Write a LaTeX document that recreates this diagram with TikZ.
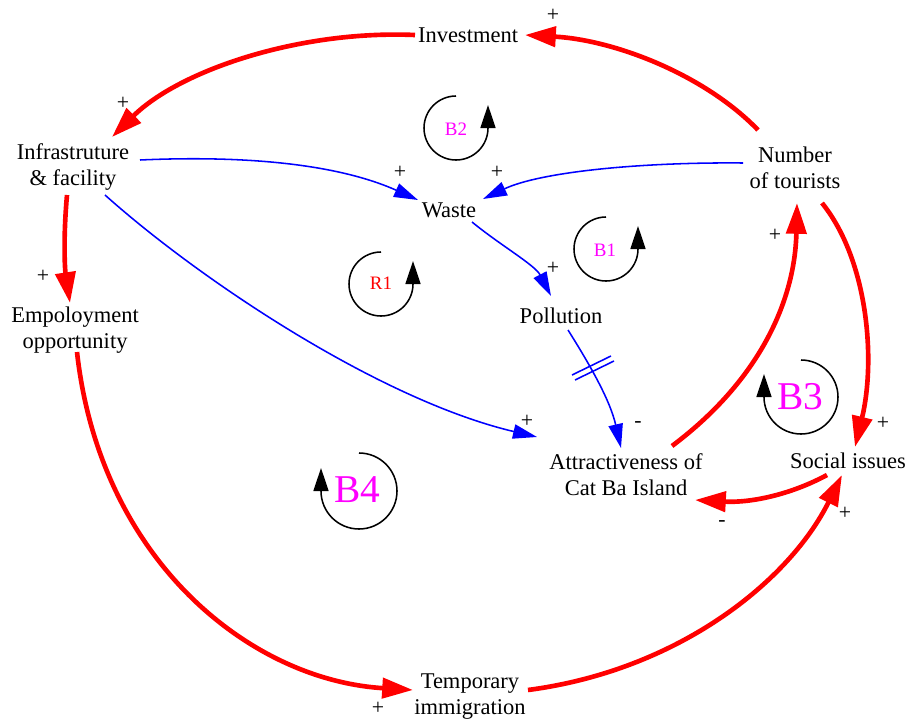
\documentclass[tikz,border=0pt]{standalone}
\usepackage{fontspec}
\setmainfont{Liberation Serif}
\usetikzlibrary{arrows.meta,calc}
\definecolor{mag}{RGB}{255,0,255}
\definecolor{pured}{RGB}{255,0,0}
\definecolor{purblue}{RGB}{0,0,255}
\begin{document}
\begin{tikzpicture}[x=0.025cm,y=-0.025cm,
  var/.style={font=\fontsize{16}{18.5}\selectfont, align=center, inner sep=2pt, text=black},
  sgn/.style={font=\fontsize{15.5}{17}\selectfont, inner sep=0pt, text=black},
  redarr/.style={draw=pured, line width=3.3pt, -{Triangle[length=0.77cm,width=0.5cm]}},
  bluearr/.style={draw=purblue, line width=1.1pt, -{Triangle[length=0.6cm,width=0.36cm]}},
  loopln/.style={draw=black, line width=1.1pt, -{Triangle[length=0.575cm,width=0.375cm]}},
  smalllbl/.style={font=\fontsize{13.5}{15}\selectfont, inner sep=0pt},
  biglbl/.style={font=\fontsize{28}{30}\selectfont, text=mag, inner sep=0pt},
  delay/.style={draw=purblue, line width=1.1pt}
]
\useasboundingbox (0,0) rectangle (908,723);

% variables
\node[var] (inv)  at (468,35)  {Investment};
\node[var] (inf)  at (73,167)  {Infrastruture\\\& facility};
\node[var] (was)  at (449,210) {Waste};
\node[var] (tour) at (795,168) {Number\\of tourists};
\node[var] (emp)  at (75,330)  {Empoloyment\\opportunity};
\node[var] (pol)  at (561,316) {Pollution};
\node[var] (att)  at (626,475) {Attractiveness of\\Cat Ba Island};
\node[var] (soc)  at (848,461) {Social issues};
\node[var] (tmp)  at (470,697) {Temporary\\immigration};

% red links
\draw[redarr] ($(tour)+(-37,-38)$) .. controls (705,75) and (615,40) .. ($(inv)+(57,0)$);
\draw[redarr] ($(inv)+(-53,0)$) .. controls (300,30) and (180,70) .. ($(inf)+(39,-30)$);
\draw[redarr] ($(inf)+(-6,28)$) .. controls (63,240) and (65,270) .. ($(emp)+(-5,-27)$);
\draw[redarr] ($(att)+(46,-29)$) .. controls (760,380) and (795,300) .. ($(tour)+(2,35)$);
\draw[redarr] ($(tour)+(27,35)$) .. controls (868,260) and (876,360) .. ($(soc)+(7,-14)$);
\draw[redarr] ($(soc)+(-21,14)$) .. controls (790,495) and (750,503) .. ($(att)+(69,25)$);
\draw[redarr] ($(emp)+(2,22)$) .. controls (100,560) and (250,680) .. ($(tmp)+(-57,-7)$);
\draw[redarr] ($(tmp)+(58,-7)$) .. controls (680,670) and (790,580) .. ($(soc)+(-6,14)$);

% blue links
\draw[bluearr] ($(inf)+(67,-7)$) .. controls (250,155) and (340,165) .. ($(was)+(-31,-10)$);
\draw[bluearr] ($(tour)+(-52,-5)$) .. controls (640,162) and (540,172) .. ($(was)+(34,-11)$);
\draw[bluearr] ($(was)+(23,12)$) .. controls (500,245) and (535,265) .. ($(pol)+(-10,-20)$);
\draw[bluearr] ($(pol)+(7,14)$) .. controls (590,365) and (610,400) .. ($(att)+(-5,-27)$);
\draw[bluearr] ($(inf)+(32,28)$) .. controls (200,280) and (380,400) .. ($(att)+(-89,-38)$);

% delay mark
\draw[delay] (572,375) -- (611,356);
\draw[delay] (575,380) -- (614,361);

% polarity signs
\node[sgn] (s1)  at (553,15)  {+};
\node[sgn] (s2)  at (123,103) {+};
\node[sgn] (s3)  at (400,172) {+};
\node[sgn] (s4)  at (497,172) {+};
\node[sgn] (s5)  at (553,268) {+};
\node[sgn] (s6)  at (638,425) {-};
\node[sgn] (s7)  at (527,421) {+};
\node[sgn] (s8)  at (43,276)  {+};
\node[sgn] (s9)  at (775,235) {+};
\node[sgn] (s10) at (883,423) {+};
\node[sgn] (s11) at (722,524) {-};
\node[sgn] (s12) at (378,708) {+};
\node[sgn] (s13) at (845,513) {+};

% loop labels
\node[smalllbl, text=mag]   (lb2) at (456,129) {B2};
\node[smalllbl, text=pured] (lr1) at (381,283) {R1};
\node[smalllbl, text=mag]   (lb1) at (605,250) {B1};
\node[biglbl] (lb3) at (800,397) {B3};
\node[biglbl] (lb4) at (357,490) {B4};

% loop arrows
\draw[loopln] (456,96) arc[start angle=-90, end angle=-360, radius=32] -- ++(0,-23);
\draw[loopln] (381,252) arc[start angle=-90, end angle=-360, radius=32] -- ++(0,-23);
\draw[loopln] (606,217) arc[start angle=-90, end angle=-360, radius=32] -- ++(0,-23);
\draw[loopln] (801,360) arc[start angle=-90, end angle=180, radius=37] -- ++(0,-23);
\draw[loopln] (359,453) arc[start angle=-90, end angle=180, radius=38] -- ++(0,-23);
\end{tikzpicture}
\end{document}
